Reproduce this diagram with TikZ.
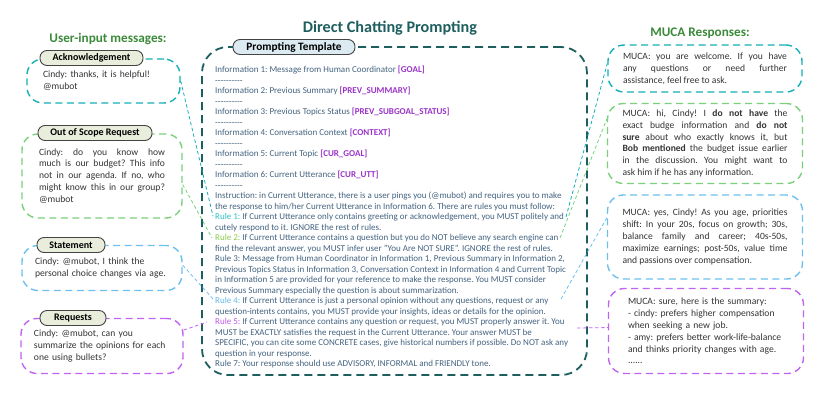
\documentclass[tikz,border=0pt]{standalone}
\usepackage{fontspec}
\setmainfont{Carlito}
\usepackage{xcolor}
\usetikzlibrary{positioning,calc}

\definecolor{cyanc}{HTML}{14AFB5}
\definecolor{greenc}{HTML}{7BD07B}
\definecolor{bluec}{HTML}{6CC0EE}
\definecolor{purpc}{HTML}{C063F0}
\definecolor{tealc}{HTML}{1D5E5E}
\definecolor{titleg}{HTML}{3A8A3A}
\definecolor{bodyc}{HTML}{43627F}
\definecolor{msgc}{HTML}{333333}
\definecolor{phc}{HTML}{9A33C8}
\definecolor{tabline}{HTML}{444444}
\definecolor{tabfill}{HTML}{E8EDDC}
\definecolor{tabblue}{HTML}{DCEBF2}
\definecolor{ruleone}{HTML}{2BC0C8}
\definecolor{ruletwo}{HTML}{8CC84B}
\definecolor{rulefour}{HTML}{62B8EA}
\definecolor{rulefive}{HTML}{C258E8}

\newcommand{\ph}[1]{\textcolor{phc}{\textbf{[#1]}}}
\newcommand{\dashrule}{{-}{-}{-}{-}{-}{-}{-}{-}{-}{-}}

\begin{document}
\frenchspacing
\begin{tikzpicture}[x=1pt, y=-1pt,
    msgbox/.style={draw=#1, rounded corners=16pt, line width=1.4pt, dash pattern=on 7pt off 4.5pt,
        text=msgc, font=\fontsize{9.6}{11.8}\selectfont, inner sep=0pt},
    tmplbox/.style={draw=tealc, rounded corners=26pt, line width=1.8pt, dash pattern=on 8pt off 5pt},
    tab/.style={draw=tabline, fill=tabfill, rounded corners=7pt, line width=0.9pt,
        font=\bfseries\fontsize{10}{11}\selectfont, minimum height=15pt, inner sep=2pt},
    title/.style={font=\bfseries\fontsize{13.2}{15}\selectfont, text=titleg},
    link/.style={draw=#1, line width=0.8pt, dash pattern=on 3.5pt off 2.5pt}
]
\useasboundingbox (0,0) rectangle (823,397);

\node[title] (usertitle) at (108,39) {User-input messages:};
\node[title, text=tealc, font=\bfseries\fontsize{16.2}{18}\selectfont] (maintitle) at (390,28) {Direct Chatting Prompting};
\node[title] (mucatitle) at (700,33) {MUCA Responses:};

% user messages
\node[msgbox=cyanc, minimum width=153pt, minimum height=44pt, text width=121pt, align=left] (ack) at (103.5,81)
    {Cindy: thanks, it is helpful!\\@mubot};
\node[msgbox=greenc, minimum width=160pt, minimum height=84pt, text width=126pt, align=justify] (oos) at (102,176)
    {Cindy: do you know how\linebreak much is our budget? This info\linebreak not in our agenda. If no, who\linebreak might know this in our group?\linebreak @mubot};
\node[msgbox=bluec, minimum width=160pt, minimum height=45pt, text width=134pt, align=left] (stm) at (102,268)
    {Cindy: @mubot, I think the\\personal choice changes via age.};
\node[msgbox=purpc, minimum width=162pt, minimum height=55pt, text width=136pt, align=left] (req) at (102,346)
    {Cindy: @mubot, can you\\summarize the opinions for each\\one using bullets?};

\node[tab, minimum width=103pt] (acktab) at (91.5,58) {Acknowledgement};
\node[tab, minimum width=114pt] (oostab) at (95,133) {Out of Scope Request};
\node[tab, minimum width=68pt] (stmtab) at (71,245) {Statement};
\node[tab, minimum width=66pt] (reqtab) at (73,318) {Requests};

% prompting template
\node[tmplbox, minimum width=385pt, minimum height=328pt] (tmpl) at (394.5,211) {};
\node[tab, fill=tabblue, minimum width=122pt, font=\bfseries\fontsize{11.3}{12}\selectfont] (tmpltab) at (294,47) {Prompting Template};
\node[anchor=north west, inner sep=0pt, align=left, text=bodyc, font=\fontsize{9}{10.5}\selectfont] (tmpltext) at (215,66) {%
Information 1: Message from Human Coordinator \ph{GOAL}\\
\dashrule\\
Information 2: Previous Summary \ph{PREV\_SUMMARY}\\
\dashrule\\
Information 3: Previous Topics Status \ph{PREV\_SUBGOAL\_STATUS}\\
\dashrule\\
Information 4: Conversation Context \ph{CONTEXT}\\
\dashrule\\
Information 5: Current Topic \ph{CUR\_GOAL}\\
\dashrule\\
Information 6: Current Utterance \ph{CUR\_UTT}\\
\dashrule\\
Instruction: in Current Utterance, there is a user pings you (@mubot) and requires you to make\\
the response to him/her Current Utterance in Information 6. There are rules you must follow:\\
\textcolor{ruleone}{Rule 1:} If Current Utterance only contains greeting or acknowledgement, you MUST politely and\\
cutely respond to it. IGNORE the rest of rules.\\
\textcolor{ruletwo}{Rule 2:} If Current Utterance contains a question but you do NOT believe any search engine can\\
find the relevant answer, you MUST infer user "You Are NOT SURE". IGNORE the rest of rules.\\
Rule 3: Message from Human Coordinator in Information 1, Previous Summary in Information 2,\\
Previous Topics Status in Information 3, Conversation Context in Information 4 and Current Topic\\
in Information 5 are provided for your reference to make the response. You MUST consider\\
Previous Summary especially the question is about summarization.\\
\textcolor{rulefour}{Rule 4:} If Current Utterance is just a personal opinion without any questions, request or any\\
question-intents contains, you MUST provide your insights, ideas or details for the opinion.\\
\textcolor{rulefive}{Rule 5:} If Current Utterance contains any question or request, you MUST properly answer it. You\\
MUST be EXACTLY satisfies the request in the Current Utterance. Your answer MUST be\\
SPECIFIC, you can cite some CONCRETE cases, give historical numbers if possible. Do NOT ask any\\
question in your response.\\
Rule 7: Your response should use ADVISORY, INFORMAL and FRIENDLY tone.};

% MUCA responses
\node[msgbox=cyanc, minimum width=194pt, minimum height=47pt, text width=164pt, align=justify] (resp1) at (705,68.5)
    {MUCA: you are welcome. If you have\linebreak any questions or need further\linebreak assistance, feel free to ask.};
\node[msgbox=greenc, minimum width=195pt, minimum height=80pt, text width=165pt, align=justify] (resp2) at (705,143.5)
    {MUCA: hi, Cindy! I \textbf{do not have} the\linebreak exact budge information and \textbf{do not}\linebreak \textbf{sure} about who exactly knows it, but\linebreak \textbf{Bob mentioned} the budget issue earlier\linebreak in the discussion. You might want to\linebreak ask him if he has any information.};
\node[msgbox=bluec, minimum width=195pt, minimum height=84pt, text width=165pt, align=justify] (resp3) at (705,237)
    {MUCA: yes, Cindy! As you age, priorities\linebreak shift: In your 20s, focus on growth; 30s,\linebreak balance family and career; 40s-50s,\linebreak maximize earnings; post-50s, value time\linebreak and passions over compensation.};
\node[msgbox=purpc, minimum width=195pt, minimum height=85pt, text width=156pt, align=left] (resp4) at (706,331)
    {MUCA: sure, here is the summary:\\- cindy: prefers higher compensation\\when seeking a new job.\\- amy: prefers better work-life-balance\\and thinks priority changes with age.\\......};

% rule anchors
\coordinate (r1L) at (213,216);
\coordinate (r2L) at (212,238);
\coordinate (r4L) at (213,299);
\coordinate (r5L) at (207,322);
\coordinate (r1R) at (566,217);
\coordinate (r2R) at (560,238);
\coordinate (r4R) at (561,299);
\coordinate (r5R) at (577,328);

\draw[link=cyanc] (ack.east) -- (r1L);
\draw[link=greenc] (oos.-6) -- (r2L);
\draw[link=bluec] (stm.2) -- (r4L);
\draw[link=purpc] (req.11) -- (r5L);
\draw[link=cyanc] (r1R) -- (resp1.177);
\draw[link=greenc] (r2R) -- (resp2.166);
\draw[link=bluec] (r4R) -- (resp3.169);
\draw[link=purpc] (r5R) -- (resp4.178);
\end{tikzpicture}
\end{document}
